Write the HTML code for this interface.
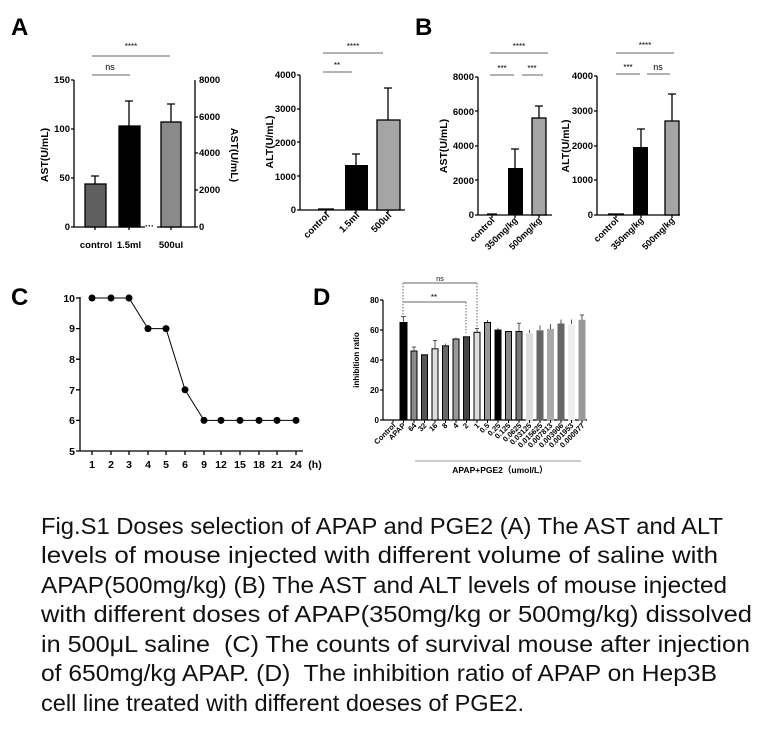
<!DOCTYPE html>
<html><head><meta charset="utf-8"><style>
html,body{margin:0;padding:0;background:#fff;}
svg{display:block;}
text{font-family:"Liberation Sans",Arial,sans-serif;}
.b{font-weight:bold;}
</style></head><body>
<svg width="763" height="740" viewBox="0 0 763 740" xmlns="http://www.w3.org/2000/svg">
<!-- Panel letters -->
<text x="11" y="35" font-size="24" class="b">A</text>
<text x="415" y="35" font-size="24" class="b">B</text>
<text x="11" y="305" font-size="24" class="b">C</text>
<text x="313" y="305" font-size="24" class="b">D</text>

<!-- A left -->
<g font-size="9.5" class="b" text-anchor="end">
<text x="70" y="83">150</text><text x="70" y="132">100</text><text x="70" y="181">50</text><text x="70" y="230">0</text>
</g>
<g font-size="9.5" class="b">
<text x="199" y="83">8000</text><text x="199" y="120">6000</text><text x="199" y="156">4000</text><text x="199" y="193">2000</text><text x="199" y="230">0</text>
</g>
<g stroke="#000" stroke-width="1.3" fill="none">
<path d="M74 80V227H195V80M71 80H74M71 129H74M71 178H74M71 227H74M195 117H198M195 153H198M195 190H198M195 227H198"/>
<path d="M95 227V230M129 227V230M171 227V230"/>
<path d="M95 184V176M91 176H99M129 126V101M125 101H133M171 122V104M167 104H175"/>
</g>
<rect x="85" y="184" width="21" height="43" fill="#5f5f5f" stroke="#000" stroke-width="1.3"/>
<rect x="119" y="126" width="21" height="101" fill="#000" stroke="#000" stroke-width="1.3"/>
<rect x="161" y="122" width="20" height="105" fill="#8a8a8a" stroke="#000" stroke-width="1.3"/>
<rect x="145" y="225" width="12" height="4" fill="#fff"/>
<text x="145" y="229" font-size="9" class="b">···</text>
<g font-size="9.5" class="b" text-anchor="middle">
<text x="96" y="248">control</text><text x="129" y="248">1.5ml</text><text x="171" y="248">500ul</text>
</g>
<path d="M92 56H170M92 75H130" stroke="#666" stroke-width="1"/>
<text x="131" y="49" font-size="8" text-anchor="middle">****</text>
<text x="110" y="70" font-size="9" text-anchor="middle">ns</text>
<text transform="translate(48,155) rotate(-90)" font-size="10.5" class="b" text-anchor="middle">AST(U/mL)</text>
<text transform="translate(231,155) rotate(90)" font-size="10.5" class="b" text-anchor="middle">AST(U/mL)</text>

<!-- A right ALT -->
<g font-size="9.5" class="b" text-anchor="end">
<text x="296" y="78">4000</text><text x="296" y="112">3000</text><text x="296" y="146">2000</text><text x="296" y="180">1000</text><text x="296" y="213">0</text>
</g>
<g stroke="#000" stroke-width="1.3" fill="none">
<path d="M300 75V210H405M297 75H300M297 109H300M297 142H300M297 176H300M297 210H300M326 210V213M356 210V213M388 210V213"/>
<path d="M356 165V154M352 154H360M388 120V88M384 88H392M318 209H334"/>
</g>
<rect x="345" y="165" width="23" height="45" fill="#000"/>
<rect x="377" y="120" width="23" height="90" fill="#a5a5a5" stroke="#000" stroke-width="1.3"/>
<path d="M323 53H383M323 72H352" stroke="#666" stroke-width="1"/>
<text x="353" y="49" font-size="8" text-anchor="middle">****</text>
<text x="337" y="68" font-size="8" text-anchor="middle">**</text>
<text transform="translate(273,142) rotate(-90)" font-size="10.5" class="b" text-anchor="middle">ALT(U/mL)</text>
<g font-size="9.5" class="b" text-anchor="end">
<text transform="translate(330,216) rotate(-45)">control</text>
<text transform="translate(360,216) rotate(-45)">1.5ml</text>
<text transform="translate(392,216) rotate(-45)">500ul</text>
</g>

<!-- B AST -->
<g font-size="9.5" class="b" text-anchor="end">
<text x="474" y="80">8000</text><text x="474" y="115">6000</text><text x="474" y="149">4000</text><text x="474" y="184">2000</text><text x="474" y="218">0</text>
</g>
<g stroke="#000" stroke-width="1.3" fill="none">
<path d="M478 77V215H552M475 77H478M475 111H478M475 146H478M475 180H478M475 215H478M492 215V218M515 215V218M539 215V218"/>
<path d="M515 168V149M511 149H519M539 118V106M535 106H543M487 214H497"/>
</g>
<rect x="508" y="168" width="15" height="47" fill="#000"/>
<rect x="532" y="118" width="14" height="97" fill="#a5a5a5" stroke="#000" stroke-width="1.3"/>
<path d="M490 53H548M490 75H514M522 75H543" stroke="#666" stroke-width="1"/>
<text x="519" y="49" font-size="8" text-anchor="middle">****</text>
<text x="502" y="71" font-size="8" text-anchor="middle">***</text>
<text x="532" y="71" font-size="8" text-anchor="middle">***</text>
<text transform="translate(447,146) rotate(-90)" font-size="10.5" class="b" text-anchor="middle">AST(U/mL)</text>
<g font-size="9" class="b" text-anchor="end">
<text transform="translate(495,221) rotate(-45)">control</text>
<text transform="translate(518,221) rotate(-45)">350mg/kg</text>
<text transform="translate(542,221) rotate(-45)">500mg/kg</text>
</g>

<!-- B ALT -->
<g font-size="9.5" class="b" text-anchor="end">
<text x="593" y="79">4000</text><text x="593" y="114">3000</text><text x="593" y="149">2000</text><text x="593" y="183">1000</text><text x="593" y="218">0</text>
</g>
<g stroke="#000" stroke-width="1.3" fill="none">
<path d="M597 76V215H680M594 76H597M594 111H597M594 146H597M594 180H597M594 215H597M616 215V218M641 215V218M672 215V218"/>
<path d="M641 147V129M637 129H645M672 121V94M668 94H676M608 214H624"/>
</g>
<rect x="633" y="147" width="15" height="68" fill="#000"/>
<rect x="665" y="121" width="14" height="94" fill="#a5a5a5" stroke="#000" stroke-width="1.3"/>
<path d="M616 53H674M616 74H640M647 74H670" stroke="#666" stroke-width="1"/>
<text x="645" y="48" font-size="8" text-anchor="middle">****</text>
<text x="628" y="70" font-size="8" text-anchor="middle">***</text>
<text x="658" y="70" font-size="9" text-anchor="middle">ns</text>
<text transform="translate(569,146) rotate(-90)" font-size="10.5" class="b" text-anchor="middle">ALT(U/mL)</text>
<g font-size="9" class="b" text-anchor="end">
<text transform="translate(619,221) rotate(-45)">control</text>
<text transform="translate(644,221) rotate(-45)">350mg/kg</text>
<text transform="translate(675,221) rotate(-45)">500mg/kg</text>
</g>

<!-- C -->
<g font-size="10.5" class="b" text-anchor="end">
<text x="75" y="302">10</text><text x="75" y="332">9</text><text x="75" y="363">8</text><text x="75" y="394">7</text><text x="75" y="424">6</text><text x="75" y="455">5</text>
</g>
<g stroke="#000" stroke-width="1.3" fill="none">
<path d="M80 297V451H303M76 298H80M76 328.6H80M76 359.2H80M76 389.8H80M76 420.4H80M76 451H80"/>
<path d="M92 451V455M111 451V455M129 451V455M148 451V455M166 451V455M185 451V455M204 451V455M221 451V455M240 451V455M259 451V455M277 451V455M296 451V455"/>
<polyline stroke-width="1" points="92,298 111,298 129,298 148,328.6 166,328.6 185,389.8 204,420.4 221,420.4 240,420.4 259,420.4 277,420.4 296,420.4"/>
</g>
<g fill="#000">
<circle cx="92" cy="298" r="3.5"/><circle cx="111" cy="298" r="3.5"/><circle cx="129" cy="298" r="3.5"/><circle cx="148" cy="328.6" r="3.5"/><circle cx="166" cy="328.6" r="3.5"/><circle cx="185" cy="389.8" r="3.5"/><circle cx="204" cy="420.4" r="3.5"/><circle cx="221" cy="420.4" r="3.5"/><circle cx="240" cy="420.4" r="3.5"/><circle cx="259" cy="420.4" r="3.5"/><circle cx="277" cy="420.4" r="3.5"/><circle cx="296" cy="420.4" r="3.5"/>
</g>
<g font-size="10.5" class="b" text-anchor="middle">
<text x="92" y="468">1</text><text x="111" y="468">2</text><text x="129" y="468">3</text><text x="148" y="468">4</text><text x="166" y="468">5</text><text x="185" y="468">6</text><text x="204" y="468">9</text><text x="221" y="468">12</text><text x="240" y="468">15</text><text x="259" y="468">18</text><text x="277" y="468">21</text><text x="296" y="468">24</text><text x="315" y="468">(h)</text>
</g>

<!-- D -->
<g font-size="8" class="b" text-anchor="end">
<text x="379" y="303">80</text><text x="379" y="333">60</text><text x="379" y="363">40</text><text x="379" y="393">20</text><text x="379" y="423">0</text>
</g>
<g stroke="#000" stroke-width="1.2" fill="none">
<path d="M383 300V420H587M380 300H383M380 330H383M380 360H383M380 390H383M380 420H383"/>
</g>
<g stroke="#000" stroke-width="1">
<rect x="400" y="322.5" width="7" height="97.5" fill="#000"/>
<rect x="411" y="351" width="6" height="69" fill="#8a8a8a"/>
<rect x="421.5" y="354.8" width="6" height="65.2" fill="#555"/>
<rect x="432" y="348.8" width="6" height="71.2" fill="#ddd"/>
<rect x="442.5" y="345.8" width="6" height="74.2" fill="#666"/>
<rect x="453" y="339" width="6" height="81" fill="#999"/>
<rect x="463.5" y="336.8" width="6" height="83.2" fill="#444"/>
<rect x="474" y="332.3" width="6" height="87.7" fill="#ddd"/>
<rect x="484.5" y="322.5" width="6" height="97.5" fill="#999"/>
<rect x="495" y="330" width="6" height="90" fill="#000"/>
<rect x="505.5" y="331.5" width="6" height="88.5" fill="#888"/>
<rect x="516" y="331.5" width="6" height="88.5" fill="#777"/>
<rect x="526.5" y="333.8" width="6" height="86.2" fill="#ddd" stroke="#ddd"/>
<rect x="537" y="330.8" width="6" height="89.2" fill="#666" stroke="#666"/>
<rect x="547.5" y="329.3" width="6" height="90.7" fill="#aaa" stroke="#aaa"/>
<rect x="558" y="324" width="6" height="96" fill="#666" stroke="#666"/>
<rect x="568.5" y="324.8" width="6" height="95.2" fill="#eee" stroke="#eee"/>
<rect x="579" y="320.3" width="6" height="99.7" fill="#999" stroke="#999"/>
</g>
<g stroke="#000" stroke-width="1" fill="none">
<path d="M403.5 322V316.5M401 316.5H406M414 351V347M412 347H416M435 348V340.5M433 340.5H437M445.5 345V343.5M456 339V337.5M477 332V328.5M475 328.5H479M487.5 322V320M498 330V327.8M519 331V323.3M517 323.3H521M529.5 333V330M540 330V325.5M550.5 329V324M561 324V319.5M571.5 324V319.5M582 320V315M580 315H584" stroke="#555"/>
<path d="M393 420V423M403.5 420V423M414 420V423M424.5 420V423M435 420V423M445.5 420V423M456 420V423M466.5 420V423M477 420V423M487.5 420V423M498 420V423M508.5 420V423M519 420V423M529.5 420V423M540 420V423M550.5 420V423M561 420V423M571.5 420V423M582 420V423"/>
</g>
<path d="M403 283H477M403 302H466" stroke="#666" stroke-width="1"/>
<path d="M403 283V318M477 283V328M466 302V333" stroke="#666" stroke-width="1" stroke-dasharray="1.5,1.5"/>
<text x="440" y="281" font-size="7" text-anchor="middle">ns</text>
<text x="434" y="300" font-size="8" text-anchor="middle">**</text>
<text transform="translate(359,360) rotate(-90)" font-size="8" class="b" text-anchor="middle">inhibition ratio</text>
<g font-size="7.5" class="b" text-anchor="end">
<text transform="translate(396,426) rotate(-45)">Control</text>
<text transform="translate(406,426) rotate(-45)">APAP</text>
<text transform="translate(417,426) rotate(-45)">64</text>
<text transform="translate(427,426) rotate(-45)">32</text>
<text transform="translate(438,426) rotate(-45)">16</text>
<text transform="translate(448,426) rotate(-45)">8</text>
<text transform="translate(459,426) rotate(-45)">4</text>
<text transform="translate(469,426) rotate(-45)">2</text>
<text transform="translate(480,426) rotate(-45)">1</text>
<text transform="translate(490,426) rotate(-45)">0.5</text>
<text transform="translate(501,426) rotate(-45)">0.25</text>
<text transform="translate(511,426) rotate(-45)">0.125</text>
<text transform="translate(522,426) rotate(-45)">0.0625</text>
<text transform="translate(532,426) rotate(-45)">0.03125</text>
<text transform="translate(543,426) rotate(-45)">0.015625</text>
<text transform="translate(553,426) rotate(-45)">0.007813</text>
<text transform="translate(564,426) rotate(-45)">0.003906</text>
<text transform="translate(574,426) rotate(-45)">0.001953</text>
<text transform="translate(585,426) rotate(-45)">0.000977</text>
</g>
<path d="M415 461H581" stroke="#999" stroke-width="1"/>
<text x="500" y="473" font-size="8.5" class="b" text-anchor="middle" font-family="Liberation Sans, Noto Sans CJK SC, sans-serif">APAP+PGE2（umol/L）</text>

<!-- Caption -->
<g font-size="23" fill="#111">
<text x="41" y="534" textLength="682" lengthAdjust="spacingAndGlyphs">Fig.S1 Doses selection of APAP and PGE2 (A) The AST and ALT</text>
<text x="41" y="563" textLength="677" lengthAdjust="spacingAndGlyphs">levels of mouse injected with different volume of saline with</text>
<text x="41" y="593" textLength="686" lengthAdjust="spacingAndGlyphs">APAP(500mg/kg) (B) The AST and ALT levels of mouse injected</text>
<text x="41" y="622" textLength="711" lengthAdjust="spacingAndGlyphs">with different doses of APAP(350mg/kg or 500mg/kg) dissolved</text>
<text x="41" y="652" textLength="709" lengthAdjust="spacingAndGlyphs" xml:space="preserve">in 500μL saline  (C) The counts of survival mouse after injection</text>
<text x="41" y="681" textLength="676" lengthAdjust="spacingAndGlyphs" xml:space="preserve">of 650mg/kg APAP. (D)  The inhibition ratio of APAP on Hep3B</text>
<text x="41" y="711" textLength="483" lengthAdjust="spacingAndGlyphs">cell line treated with different doeses of PGE2.</text>
</g>
</svg>
</body></html>
